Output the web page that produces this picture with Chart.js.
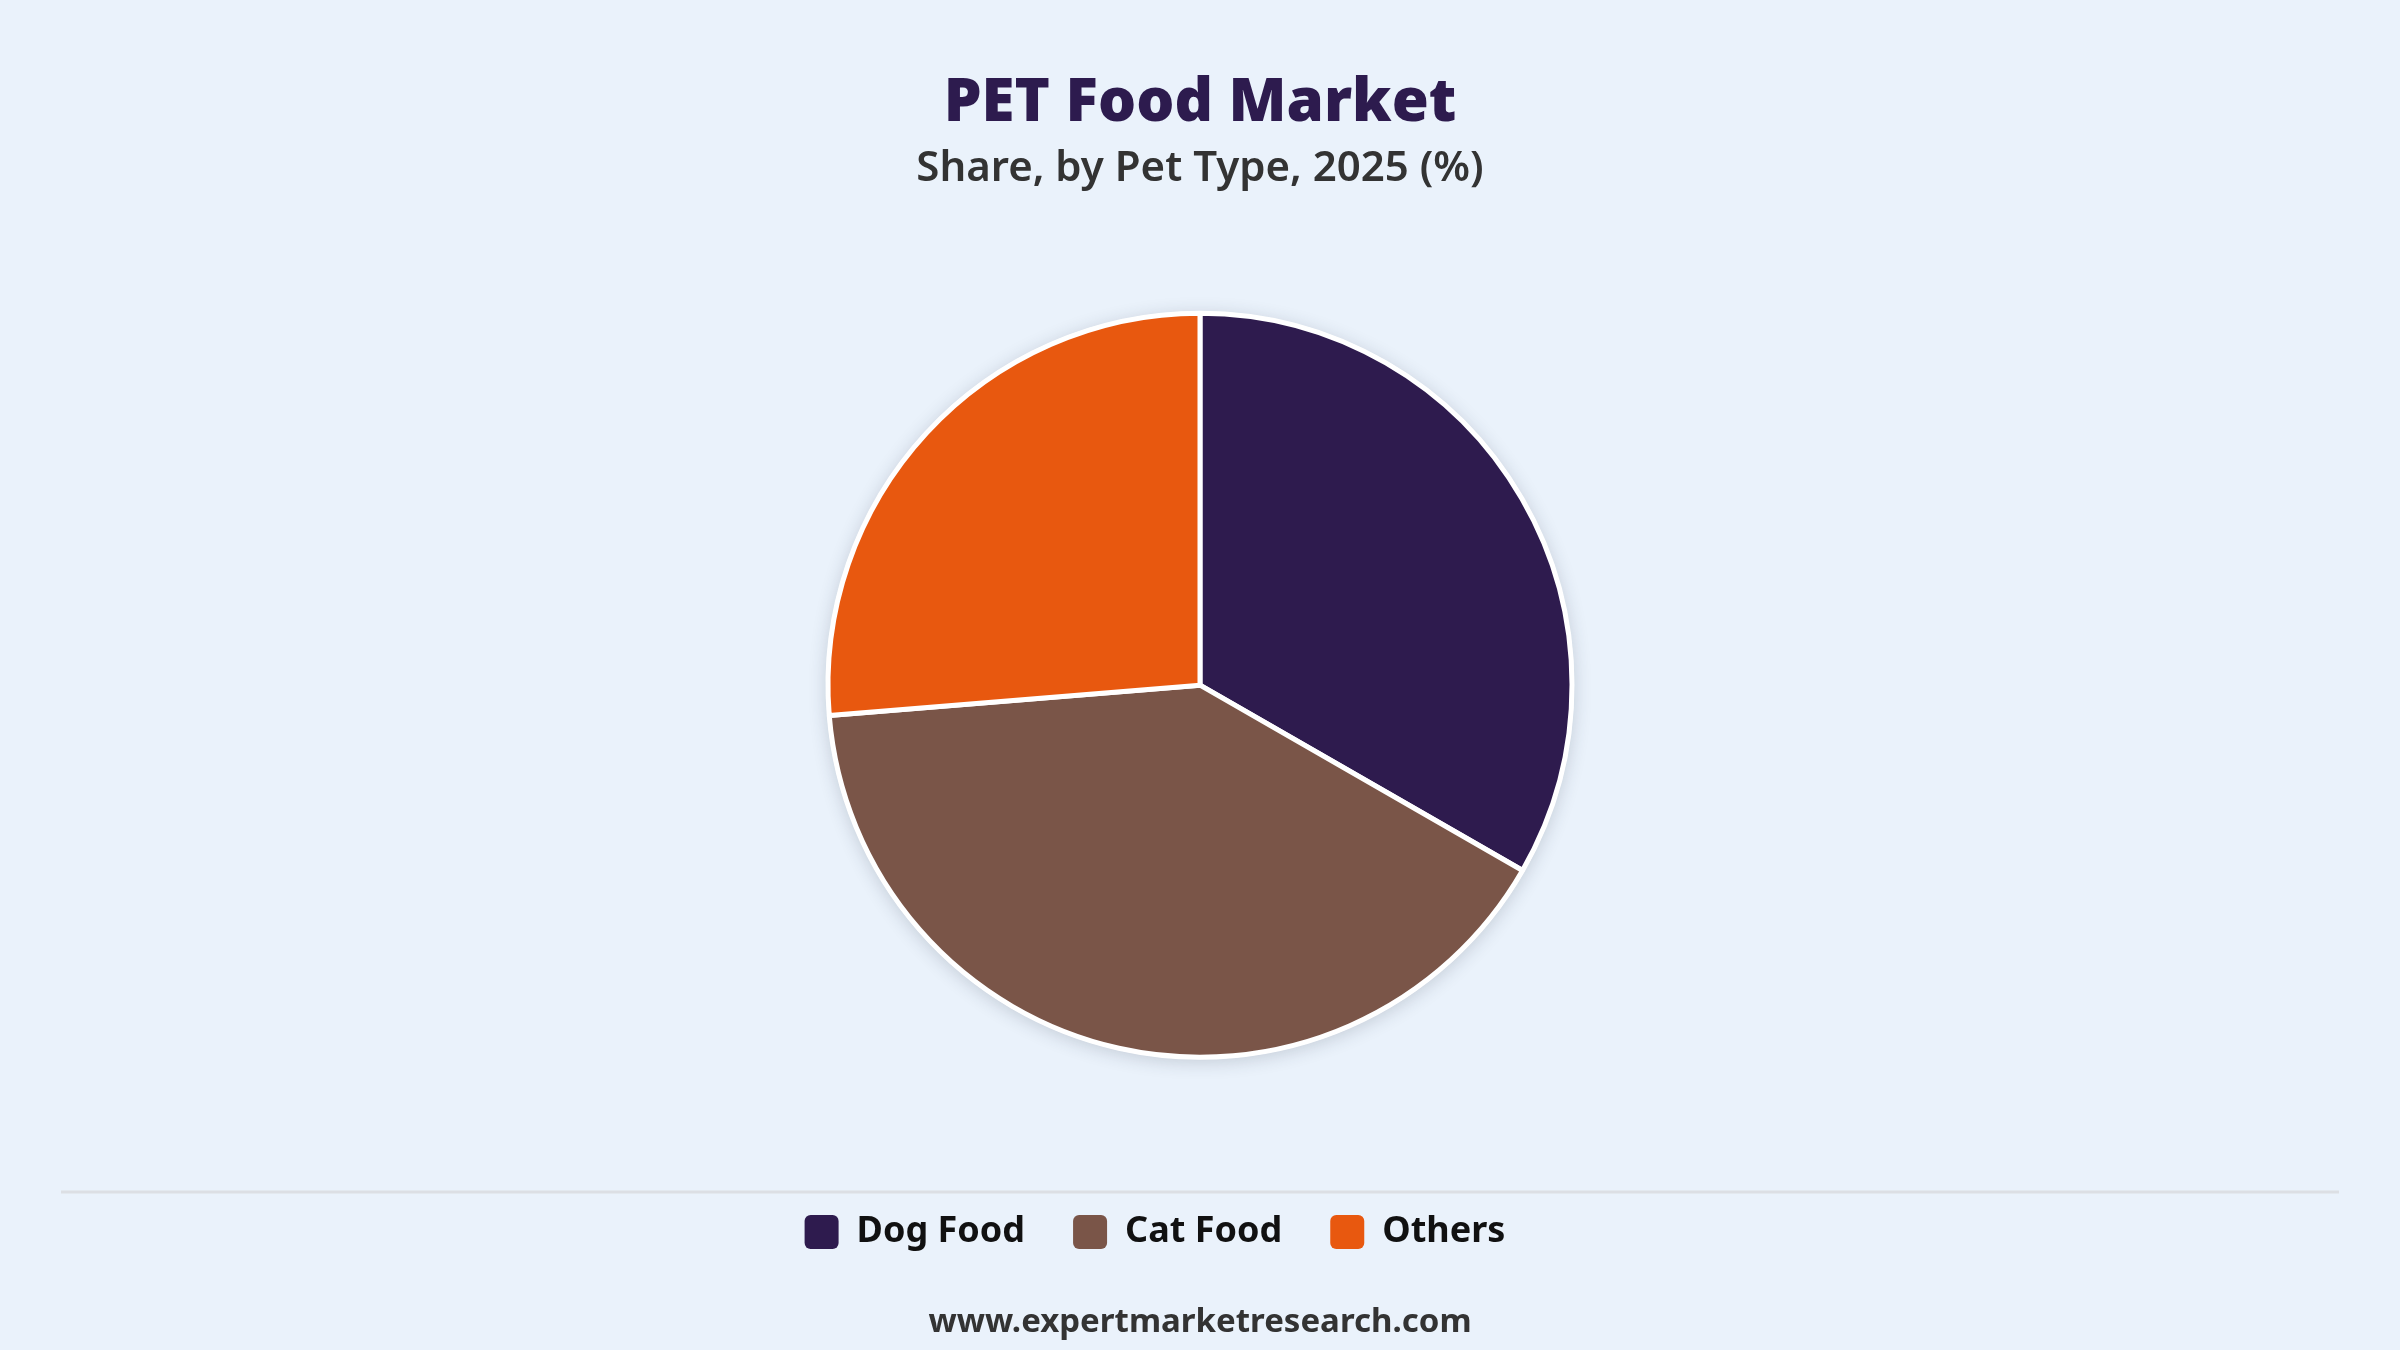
<!DOCTYPE html>
<html><head><meta charset="utf-8">
<script src="https://cdn.jsdelivr.net/npm/chart.js@4.4.1/dist/chart.umd.min.js"></script>
<style>html,body{margin:0;padding:0;background:#EAF2FB;} canvas{display:block}</style>
</head><body>
<canvas id="c" width="2400" height="1350"></canvas>
<script>
// ---- data ----
const categories = ['Dog Food', 'Cat Food', 'Others'];
const shares = [33.3, 40.4, 26.3];
const sliceColors = ['#2E1B4E', '#7A5548', '#E8580F'];
const titleText = 'PET Food Market';
const subtitleText = 'Share, by Pet Type, 2025 (%)';
const footerText = 'www.expertmarketresearch.com';

// ---- styling constants ----
const FONT = "'Noto Sans', 'Open Sans', sans-serif";
const PIE_RADIUS = 372;
const LEGEND_SHIFT = 90;

const pieShadow = {
  id: 'pieShadow',
  beforeDatasetsDraw(chart) {
    const arc = chart.getDatasetMeta(0).data[0];
    if (!arc) return;
    const ctx = chart.ctx;
    ctx.save();
    ctx.shadowColor = 'rgba(40,50,70,0.20)';
    ctx.shadowBlur = 18;
    ctx.shadowOffsetY = 3;
    ctx.beginPath();
    ctx.arc(arc.x, arc.y, arc.outerRadius + 2, 0, Math.PI * 2);
    ctx.fillStyle = '#ffffff';
    ctx.fill();
    ctx.restore();
  }
};

const legendShift = {
  id: 'legendShift',
  afterLayout(chart) {
    if (chart.legend) chart.legend.left -= LEGEND_SHIFT;
  }
};

const decor = {
  id: 'decor',
  afterDraw(chart) {
    const ctx = chart.ctx;
    const w = chart.width;
    ctx.save();
    ctx.strokeStyle = '#DCDFE4';
    ctx.lineWidth = 3;
    ctx.beginPath();
    ctx.moveTo(61, 1192);
    ctx.lineTo(w - 61, 1192);
    ctx.stroke();
    ctx.fillStyle = '#333333';
    ctx.font = "bold 33px " + FONT;
    ctx.textAlign = 'center';
    ctx.textBaseline = 'middle';
    ctx.fillText(footerText, w / 2, 1323);
    ctx.restore();
  }
};

new Chart(document.getElementById('c'), {
  type: 'pie',
  data: {
    labels: categories,
    datasets: [{
      data: shares,
      backgroundColor: sliceColors,
      borderColor: '#ffffff',
      borderWidth: 5,
      radius: PIE_RADIUS
    }]
  },
  options: {
    responsive: false,
    devicePixelRatio: 1,
    animation: false,
    events: [],
    layout: { padding: { top: 0, bottom: 90, left: 0, right: 0 } },
    plugins: {
      title: {
        display: true,
        text: titleText,
        color: '#2D1B4E',
        font: { family: FONT, size: 60, weight: '900', lineHeight: 1.2 },
        padding: { top: 68, bottom: 0 }
      },
      subtitle: {
        display: true,
        text: subtitleText,
        color: '#333333',
        font: { family: FONT, size: 42, weight: '600', lineHeight: 1.2 },
        padding: { top: 4, bottom: 10 }
      },
      legend: {
        display: true,
        position: 'bottom',
        labels: {
          color: '#111111',
          font: { family: FONT, size: 36, weight: 'bold' },
          boxWidth: 34,
          boxHeight: 34,
          padding: 48,
          useBorderRadius: true,
          borderRadius: 6,
          generateLabels(chart) {
            const items = Chart.overrides.pie.plugins.legend.labels.generateLabels(chart);
            return items.map(it => Object.assign(it, { lineWidth: 0, strokeStyle: 'rgba(0,0,0,0)' }));
          }
        }
      },
      tooltip: { enabled: false }
    }
  },
  plugins: [pieShadow, legendShift, decor]
});
</script>
</body></html>
